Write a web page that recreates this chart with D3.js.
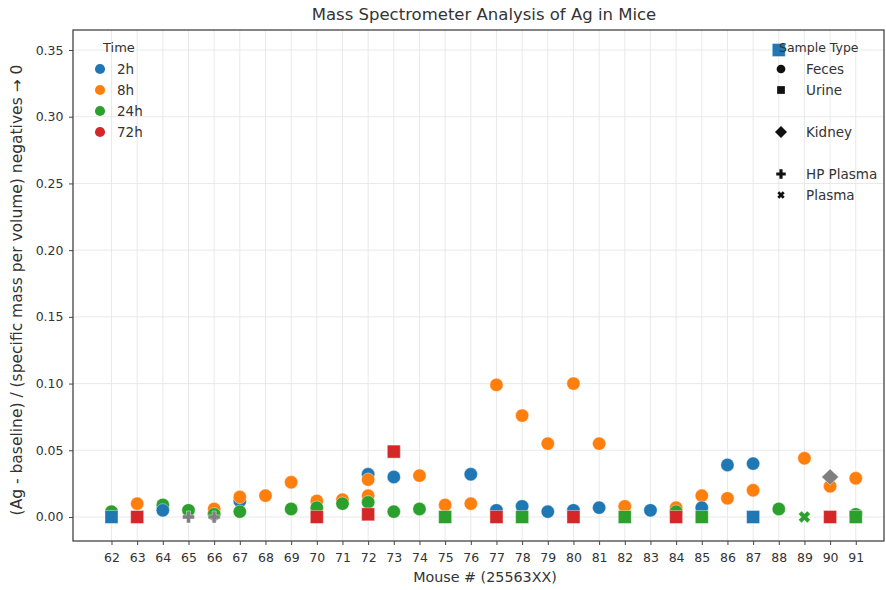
<!DOCTYPE html>
<html>
<head>
<meta charset="utf-8">
<script src="https://cdn.jsdelivr.net/npm/d3@7"></script>
<style>
  body { margin: 0; background: #fff; }
  text { font-family: "DejaVu Sans", sans-serif; fill: #333; }
</style>
</head>
<body>
<script>
// *** DATA ***

// mice on the x axis (25563XX)
var mice = d3.range(62, 92);
var yTicks = [0, 0.05, 0.10, 0.15, 0.20, 0.25, 0.30, 0.35];

// time groups
var times = ['2h', '8h', '24h', '72h'];

// each point: [mouse, time, value]
var fecesPoints = [
  [62,'24h',0.004],[63,'8h',0.010],[64,'24h',0.009],[64,'2h',0.005],
  [65,'24h',0.005],[66,'8h',0.006],[66,'24h',0.002],
  [67,'2h',0.012],[67,'8h',0.015],[67,'24h',0.004],[68,'8h',0.016],
  [69,'8h',0.026],[69,'24h',0.006],[70,'8h',0.012],[70,'24h',0.007],
  [71,'8h',0.013],[71,'24h',0.010],
  [72,'2h',0.032],[72,'8h',0.028],[72,'8h',0.016],[72,'24h',0.011],
  [73,'2h',0.030],[73,'24h',0.004],[74,'8h',0.031],[74,'24h',0.006],
  [75,'8h',0.009],[76,'2h',0.032],[76,'8h',0.010],
  [77,'8h',0.099],[77,'2h',0.005],[78,'8h',0.076],[78,'2h',0.008],
  [79,'8h',0.055],[79,'2h',0.004],[80,'8h',0.100],[80,'2h',0.005],
  [81,'8h',0.055],[81,'2h',0.007],[82,'8h',0.008],[83,'2h',0.005],
  [84,'8h',0.007],[84,'24h',0.004],[85,'8h',0.016],[85,'2h',0.007],
  [86,'2h',0.039],[86,'8h',0.014],[87,'2h',0.040],[87,'8h',0.020],
  [88,'24h',0.006],[89,'8h',0.044],[90,'8h',0.023],[91,'8h',0.029],
  [91,'24h',0.002]
];
var urinePoints = [
  [62,'2h',0],[63,'72h',0],[70,'72h',0],[72,'72h',0.002],[73,'72h',0.049],
  [75,'24h',0],[77,'72h',0],[78,'24h',0],[80,'72h',0],[82,'24h',0],
  [84,'72h',0],[85,'24h',0],[87,'2h',0],[88,'2h',0.350],[90,'72h',0],
  [91,'24h',0]
];
var kidneyPoints = [[90,'other',0.030]];
var hpPlasmaPoints = [[65,'other',0],[66,'other',0]];
var plasmaPoints = [[89,'24h',0]];

var sampleTypes = ['Feces', 'Urine', '', 'Kidney', '', 'HP Plasma', 'Plasma'];

// *** SETUP ***

var width = 886, height = 590;
var margin = {left: 73, right: 2, top: 30, bottom: 49};

var colors = {'2h': '#1f77b4', '8h': '#ff7f0e', '24h': '#2ca02c', '72h': '#d62728', 'other': '#7f7f7f'};

var svg = d3.select('body').append('svg')
  .attr('width', width)
  .attr('height', height);

var x = d3.scaleLinear().domain([60.5, 92.1]).range([margin.left, width - margin.right]);
var y = d3.scaleLinear().domain([-0.018, 0.365]).range([height - margin.bottom, margin.top]);

// grid
svg.append('g').selectAll('line').data(mice).enter().append('line')
  .attr('x1', d => x(d)).attr('x2', d => x(d))
  .attr('y1', margin.top).attr('y2', height - margin.bottom)
  .style('stroke', '#e6e6e6').style('stroke-width', 0.9);
svg.append('g').selectAll('line').data(yTicks).enter().append('line')
  .attr('x1', margin.left).attr('x2', width - margin.right)
  .attr('y1', d => y(d)).attr('y2', d => y(d))
  .style('stroke', '#e6e6e6').style('stroke-width', 0.9);

// axes
var xAxis = svg.append('g')
  .attr('transform', 'translate(0,' + (height - margin.bottom) + ')')
  .call(d3.axisBottom(x).tickValues(mice).tickFormat(d3.format('d')).tickSizeInner(4).tickSizeOuter(0));
var yAxis = svg.append('g')
  .attr('transform', 'translate(' + margin.left + ',0)')
  .call(d3.axisLeft(y).tickValues(yTicks).tickFormat(d3.format('.2f')).tickSizeInner(4).tickSizeOuter(0));
[xAxis, yAxis].forEach(function(a){
  a.select('.domain').remove();
  a.selectAll('line').style('stroke', '#444');
  a.selectAll('text').style('font-size', '12.5px').style('fill', '#333');
});
xAxis.selectAll('text').attr('dy', '1.1em');
yAxis.selectAll('text').attr('dx', '-0.2em');

// frame
svg.append('rect')
  .attr('x', margin.left).attr('y', margin.top)
  .attr('width', width - margin.left - margin.right)
  .attr('height', height - margin.top - margin.bottom)
  .style('fill', 'none').style('stroke', '#444').style('stroke-width', 1.3);

// titles
svg.append('text').attr('x', 484).attr('y', 20)
  .attr('text-anchor', 'middle').style('font-size', '16.5px').text('Mass Spectrometer Analysis of Ag in Mice');
svg.append('text').attr('x', 485).attr('y', 582)
  .attr('text-anchor', 'middle').style('font-size', '14.3px').text('Mouse # (25563XX)');
svg.append('text')
  .attr('transform', 'translate(22,290) rotate(-90)')
  .attr('text-anchor', 'middle').style('font-size', '15.5px')
  .text('(Ag - baseline) / (specific mass per volume) negatives \u2192 0');

// *** MARKERS ***

function xPath(s) {
  var a = 2.2 * s, b = 4.6 * s, c = 2.4 * s;
  return 'M' + -a + ',' + -b + 'L0,' + -c + 'L' + a + ',' + -b + 'L' + b + ',' + -a + 'L' + c + ',0L' + b + ',' + a +
    'L' + a + ',' + b + 'L0,' + c + 'L' + -a + ',' + b + 'L' + -b + ',' + a + 'L' + -c + ',0L' + -b + ',' + -a + 'Z';
}
function diamondPath(w, h) {
  return 'M0,' + -h + 'L' + w + ',0L0,' + h + 'L' + -w + ',0Z';
}

var shapes = {
  'Feces': d3.symbol(d3.symbolCircle, 140)(),
  'Urine': d3.symbol(d3.symbolSquare, 170)(),
  'Kidney': diamondPath(8.5, 8),
  'HP Plasma': d3.symbol(d3.symbolCross, 80)(),
  'Plasma': xPath(1.3)
};

var layers = [
  ['Feces', fecesPoints], ['Kidney', kidneyPoints], ['HP Plasma', hpPlasmaPoints],
  ['Plasma', plasmaPoints], ['Urine', urinePoints]
];

var gPts = svg.append('g');
layers.forEach(function(l){
  gPts.append('g').selectAll('path').data(l[1]).enter().append('path')
    .attr('d', shapes[l[0]])
    .attr('transform', d => 'translate(' + x(d[0]) + ',' + y(d[2]) + ')')
    .style('fill', d => colors[d[1]])
    .style('stroke', '#fff').style('stroke-width', 0.7).style('stroke-opacity', 0.6);
});

// *** LEGENDS ***

var leftLeg = svg.append('g').attr('transform', 'translate(100,47)');
leftLeg.append('text').attr('x', 3).attr('y', 5).style('font-size', '13px').text('Time');
times.forEach(function(t, i){
  var row = leftLeg.append('g').attr('transform', 'translate(0,' + (22 + i * 21) + ')');
  row.append('path').attr('d', d3.symbol(d3.symbolCircle, 80)()).style('fill', colors[t]);
  row.append('text').attr('x', 17).attr('y', 5).style('font-size', '13.5px').text(t);
});

var legShapes = {
  'Feces': d3.symbol(d3.symbolCircle, 60)(),
  'Urine': d3.symbol(d3.symbolSquare, 60)(),
  'Kidney': diamondPath(6, 6),
  'HP Plasma': d3.symbol(d3.symbolCross, 50)(),
  'Plasma': xPath(0.8)
};
var rightLeg = svg.append('g').attr('transform', 'translate(781,47)');
rightLeg.append('text').attr('x', -2).attr('y', 5).style('font-size', '12.5px').text('Sample Type');
sampleTypes.forEach(function(s, i){
  if (!s) return;
  var row = rightLeg.append('g').attr('transform', 'translate(0,' + (22 + i * 21) + ')');
  row.append('path').attr('d', legShapes[s]).style('fill', '#111');
  row.append('text').attr('x', 25).attr('y', 5).style('font-size', '13.5px').text(s);
});
</script>
</body>
</html>
